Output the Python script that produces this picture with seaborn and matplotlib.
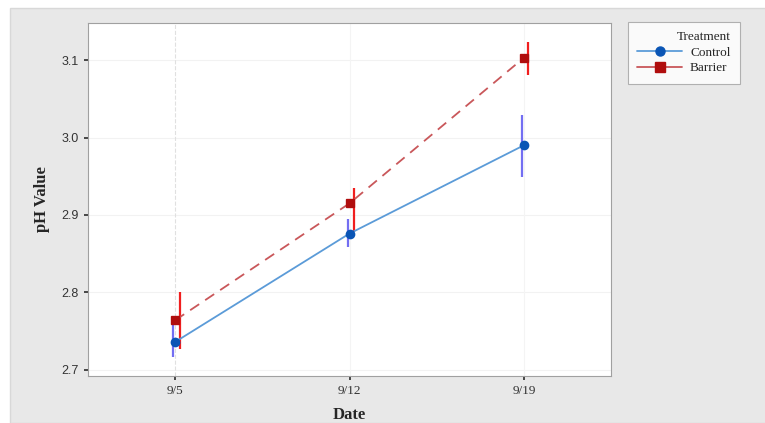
import matplotlib
matplotlib.use('Agg')
import matplotlib.pyplot as plt
import matplotlib.patches as mpatches
import numpy as np
import pandas as pd
import seaborn as sns

# values
dates = ['9/5', '9/12', '9/19']
treatments = ['Control', 'Barrier']
control_mean = [2.736, 2.876, 2.990]
control_low = [2.716, 2.859, 2.949]
control_high = [2.765, 2.895, 3.029]
barrier_mean = [2.764, 2.915, 3.103]
barrier_low = [2.727, 2.878, 3.081]
barrier_high = [2.800, 2.935, 3.124]
y_ticks = [2.7, 2.8, 2.9, 3.0, 3.1]

line_colors = {'Control': '#5b9bd8', 'Barrier': '#c9575a'}
marker_colors = {'Control': '#0a55b5', 'Barrier': '#b00d0d'}
bar_colors = {'Control': '#5a55f0', 'Barrier': '#f01e1e'}

df = pd.DataFrame({
    'Date': dates * 2,
    'pH': control_mean + barrier_mean,
    'Treatment': ['Control'] * 3 + ['Barrier'] * 3,
})

sns.set_theme(style='white')
serif = ['Liberation Serif', 'DejaVu Serif']
plt.rcParams['font.family'] = ['Liberation Sans', 'DejaVu Sans']

fig = plt.figure(figsize=(7.65, 4.23), dpi=100)
fig.patch.set_facecolor('white')
fig.patches.append(mpatches.Rectangle((10 / 765, 0), 1, 1 - 8 / 423, transform=fig.transFigure,
                                      facecolor='#e8e8e8', edgecolor='#d8d8d8', lw=1, zorder=-10))
ax = fig.add_axes([88 / 765, 47 / 423, 523 / 765, 353 / 423])
ax.set_facecolor('white')

# faint minitab style grid
for y in y_ticks:
    ax.axhline(y, color='#f2f2f2', lw=0.8, zorder=0)
ax.axvline(0, color='#e0e0e0', lw=0.8, ls='--', zorder=0)
for x in [1, 2]:
    ax.axvline(x, color='#f4f4f4', lw=0.8, zorder=0)

sns.pointplot(data=df, x='Date', y='pH', hue='Treatment', order=dates, hue_order=treatments,
              palette=line_colors, markers=['o', 's'], linestyles=['-', '--'],
              errorbar=None, dodge=False, ax=ax, legend=False, markersize=6, linewidth=1.3)

for line, t in zip(ax.lines[-2:], treatments):
    line.set_markerfacecolor(marker_colors[t])
    line.set_markeredgecolor(marker_colors[t])
    line.set_zorder(4)
ax.lines[-1].set_dashes([6, 4])

xpos = np.arange(len(dates))
ax.vlines(xpos - 0.01, control_low, control_high, color=bar_colors['Control'], lw=1.6, alpha=0.85, zorder=3)
ax.vlines(xpos + 0.025, barrier_low, barrier_high, color=bar_colors['Barrier'], lw=1.6, zorder=3)

ax.set_xlim(-0.5, 2.5)
ax.set_ylim(2.692, 3.148)
ax.set_yticks(y_ticks)
ax.set_yticklabels([f'{v:.1f}' for v in y_ticks])
ax.tick_params(axis='both', labelsize=9, colors='#333333', length=3, left=True, bottom=True)
for lab in ax.get_xticklabels():
    lab.set_family(serif)
    lab.set_fontsize(9.5)
ax.set_xlabel('Date', fontsize=12, fontweight='bold', family=serif, labelpad=7)
ax.set_ylabel('pH Value', fontsize=12, fontweight='bold', family=serif, labelpad=8)
for s in ax.spines.values():
    s.set_color('#a0a0a0')
    s.set_linewidth(0.8)

handles = [
    plt.Line2D([], [], color=line_colors[t], marker=m, markersize=6.5, lw=1.3,
               markerfacecolor=marker_colors[t], markeredgecolor=marker_colors[t])
    for t, m in zip(treatments, ['o', 's'])
]
leg = fig.legend(handles, treatments, title='Treatment', loc='upper left',
                 bbox_to_anchor=(628 / 765, 1 - 22 / 423), frameon=True, fancybox=False,
                 prop={'family': serif, 'size': 9.5}, title_fontproperties={'family': serif, 'size': 9.5},
                 alignment='right', handlelength=3.4, borderpad=0.7, labelspacing=0.25,
                 handletextpad=0.6, borderaxespad=0)
leg.get_frame().set_edgecolor('#a0a0a0')
leg.get_frame().set_linewidth(0.8)

fig.savefig('out.png', dpi=100)
